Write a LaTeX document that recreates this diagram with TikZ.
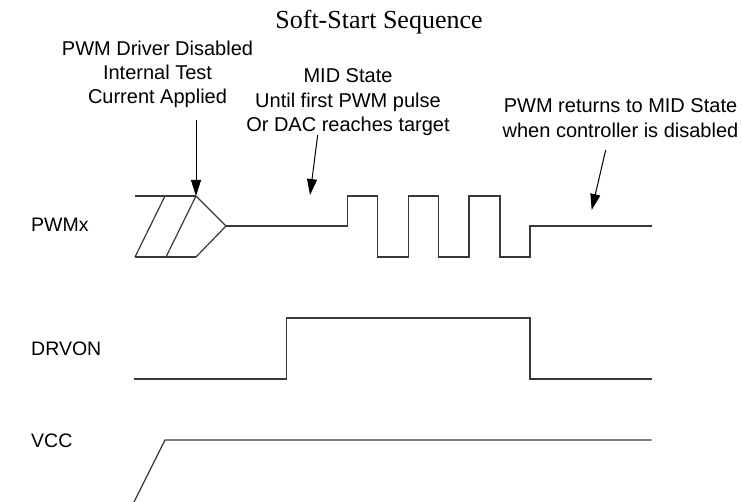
\documentclass[tikz,border=0pt]{standalone}
\usepackage{fontspec}
\setmainfont{Liberation Sans}
\newfontfamily\titlefont{Liberation Serif}
\usetikzlibrary{arrows.meta}
\begin{document}
\begin{tikzpicture}[x=1pt,y=-1pt,
  wave/.style={draw=black!78,line width=1.2pt,line join=miter},
  pointer/.style={draw=black,line width=1pt,-{Triangle[length=16pt,width=10pt]}},
  annot/.style={font=\fontsize{20}{24.3}\selectfont,align=center,inner sep=0pt,anchor=north},
  siglabel/.style={font=\fontsize{19.5}{23}\selectfont,inner sep=0pt,anchor=base west}]
\useasboundingbox (0,0) rectangle (742,502);

% title
\node[font=\titlefont\fontsize{26}{30}\selectfont,inner sep=0pt,anchor=base] (title) at (379,29) {Soft-Start Sequence};

% annotations
\node[annot] (drvoff) at (157.5,40.7) {PWM Driver Disabled\\Internal Test\\Current Applied};
\node[annot] (midstate) at (348,68.7) {MID State\\Until first PWM pulse\\Or DAC reaches target};
\node[annot] (returns) at (620.5,98.7) {PWM returns to MID State\\when controller is disabled};

% signal labels
\node[siglabel] (lpwm) at (31,232) {PWMx};
\node[siglabel] (ldrv) at (31,356) {DRVON};
\node[siglabel] (lvcc) at (31,448) {VCC};

% PWMx waveform
\draw[wave] (135,196) -- (196,196);
\draw[wave] (135,257) -- (196,257);
\draw[wave] (165,196) -- (135,257);
\draw[wave] (196,196) -- (166,257);
\draw[wave] (196,196) -- (226,226) -- (196,257);
\draw[wave] (226,226) -- (347.3,226) -- (347.3,196) -- (377.7,196) -- (377.7,257)
  -- (408.3,257) -- (408.3,196) -- (438.3,196) -- (438.3,257)
  -- (469,257) -- (469,196) -- (500,196) -- (500,257)
  -- (530,257) -- (530,226) -- (651.7,226);

% DRVON waveform
\draw[wave] (134.3,379) -- (286.7,379) -- (286.7,318) -- (530,318) -- (530,379) -- (651.7,379);

% VCC waveform
\draw[wave] (134,502) -- (165,440) -- (651.7,440);

% pointers
\coordinate (a1s) at (196,120.5);
\coordinate (a1e) at (196,196);
\coordinate (a2s) at (317.7,135);
\coordinate (a2e) at (310,195);
\coordinate (a3s) at (605.7,150);
\coordinate (a3e) at (591.7,210);
\draw[pointer] (a1s) -- (a1e);
\draw[pointer] (a2s) -- (a2e);
\draw[pointer] (a3s) -- (a3e);
\end{tikzpicture}
\end{document}
